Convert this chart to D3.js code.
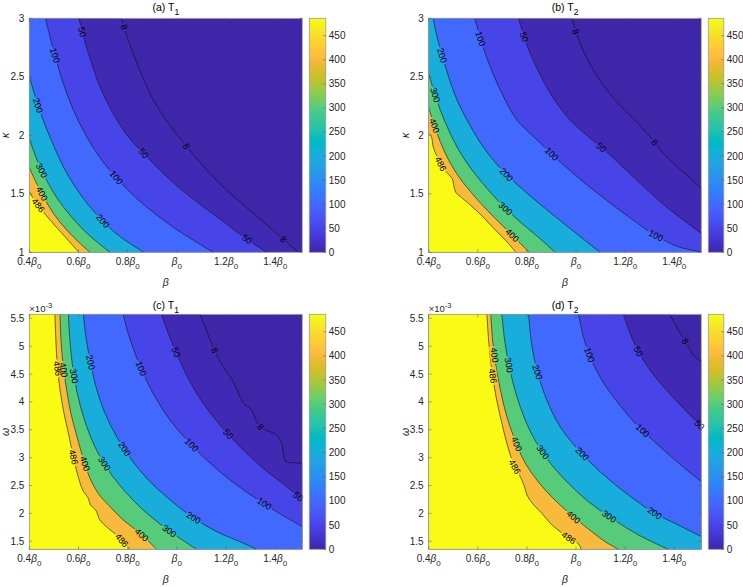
<!DOCTYPE html>
<html><head><meta charset="utf-8">
<script src="https://cdn.jsdelivr.net/npm/d3@7"></script>
<style>
body{margin:0;background:#fff;}
text{font-family:"Liberation Sans",Arial,Helvetica,sans-serif;}
</style>
</head><body>
<svg id="chart" width="743" height="587"></svg>
<script>
// ---------------- data ----------------
const betaRange = [0.4, 1.51];
const kappaRange = [1, 3];
const omegaRange = [1.356, 5.572];   // x 10^-3
const colorRange = [0, 486];
const levels = [8, 50, 100, 200, 300, 400, 486];
const xTicks = [0.4, 0.6, 0.8, 1.0, 1.2, 1.4];
const xTickPrefix = ["0.4", "0.6", "0.8", "", "1.2", "1.4"];
const kappaTicks = [1, 1.5, 2, 2.5, 3];
const omegaTicks = [1.5, 2, 2.5, 3, 3.5, 4, 4.5, 5, 5.5];
const cbTicks = [0, 50, 100, 150, 200, 250, 300, 350, 400, 450];

// panel (a): T1 over (beta, kappa)
const a486 = [[0.4,1.516],[0.430,1.419],[0.484,1.276],[0.545,1.134],[0.601,1.0]];
const a400 = [[0.4,1.724],[0.423,1.618],[0.457,1.476],[0.498,1.333],[0.552,1.191],[0.606,1.077],[0.647,1.0]];
const a300 = [[0.4,1.974],[0.416,1.875],[0.443,1.732],[0.477,1.590],[0.518,1.447],[0.565,1.319],[0.620,1.191],[0.674,1.091],[0.728,1.0]];
const a200 = [[0.4,2.507],[0.416,2.387],[0.437,2.245],[0.464,2.088],[0.498,1.917],[0.538,1.732],[0.586,1.561],[0.640,1.405],[0.701,1.262],[0.769,1.134],[0.866,1.0]];
const a100 = [[0.466,3.0],[0.484,2.843],[0.504,2.687],[0.538,2.444],[0.579,2.217],[0.633,1.989],[0.694,1.789],[0.762,1.618],[0.836,1.462],[0.918,1.319],[1.012,1.177],[1.148,1.0]];
const a50 = [[0.602,3.0],[0.620,2.843],[0.647,2.658],[0.687,2.416],[0.741,2.188],[0.802,1.989],[0.877,1.818],[0.958,1.647],[1.053,1.476],[1.162,1.305],[1.270,1.134],[1.365,1.0]];
const a8 = [[0.775,3.0],[0.802,2.815],[0.843,2.587],[0.897,2.330],[0.965,2.103],[1.040,1.903],[1.121,1.704],[1.216,1.504],[1.311,1.333],[1.405,1.162],[1.493,1.0]];
const labelsA = [[486,0.443,1.413],[400,0.454,1.504],[300,0.450,1.698],[200,0.430,2.251],[200,0.704,1.276],
  [100,0.511,2.687],[100,0.766,1.661],[50,0.620,2.886],[50,0.877,1.869],[50,1.283,1.105],[8,0.782,2.923],[8,1.040,1.909],[8,1.430,1.105]];

// panel (b): T2 over (beta, kappa)
const b486 = [[0.4,2.017],[0.411,1.989],[0.418,1.903],[0.434,1.818],[0.454,1.732],[0.479,1.670],[0.495,1.632],[0.503,1.561],[0.511,1.510],[0.529,1.476],[0.569,1.405],[0.617,1.311],[0.671,1.191],[0.718,1.091],[0.755,1.0]];
const b400 = [[0.4,2.239],[0.420,2.103],[0.447,1.946],[0.481,1.789],[0.522,1.647],[0.576,1.504],[0.637,1.362],[0.705,1.219],[0.766,1.091],[0.809,1.0]];
const b300 = [[0.4,2.524],[0.420,2.387],[0.447,2.217],[0.481,2.046],[0.522,1.875],[0.576,1.704],[0.637,1.547],[0.712,1.376],[0.779,1.248],[0.847,1.128],[0.915,1.0]];
const b200 = [[0.418,3.0],[0.434,2.843],[0.454,2.687],[0.481,2.501],[0.515,2.302],[0.556,2.131],[0.603,1.960],[0.657,1.803],[0.718,1.661],[0.793,1.519],[0.874,1.376],[0.983,1.191],[1.098,1.0]];
const b100 = [[0.588,3.0],[0.606,2.858],[0.630,2.701],[0.664,2.516],[0.705,2.330],[0.759,2.131],[0.820,2.003],[0.901,1.840],[0.996,1.661],[1.105,1.476],[1.213,1.305],[1.321,1.148],[1.416,1.048],[1.51,1.003]];
const b50 = [[0.766,3.0],[0.786,2.858],[0.813,2.701],[0.854,2.516],[0.908,2.316],[0.976,2.131],[1.050,1.989],[1.124,1.860],[1.232,1.647],[1.367,1.390],[1.51,1.162]];
const b8 = [[0.983,3.0],[1.003,2.858],[1.037,2.687],[1.091,2.487],[1.159,2.302],[1.239,2.131],[1.300,1.989],[1.367,1.818],[1.443,1.675],[1.51,1.547]];
const labelsB = [[486,0.454,1.761],[400,0.420,2.080],[400,0.732,1.128],[300,0.427,2.345],[300,0.705,1.356],
  [200,0.461,2.687],[200,0.712,1.655],[100,0.617,2.829],[100,0.901,1.840],[100,1.321,1.128],[50,0.793,2.843],[50,1.105,1.903],[8,0.999,2.886],[8,1.315,1.932]];

// panel (c): T1 over (beta, omega)
const c486 = [[0.504,5.572],[0.508,5.111],[0.514,4.633],[0.525,4.214],[0.541,3.796],[0.559,3.437],[0.576,3.078],[0.595,2.720],[0.617,2.421],[0.640,2.271],[0.649,2.152],[0.671,2.050],[0.687,1.883],[0.721,1.733],[0.762,1.584],[0.809,1.356]];
const c400 = [[0.525,5.572],[0.529,5.111],[0.538,4.633],[0.552,4.214],[0.569,3.796],[0.590,3.437],[0.613,3.078],[0.644,2.660],[0.680,2.361],[0.728,2.122],[0.782,1.883],[0.850,1.644],[0.918,1.356]];
const c300 = [[0.559,5.572],[0.565,5.111],[0.576,4.633],[0.595,4.155],[0.620,3.736],[0.649,3.377],[0.687,3.019],[0.735,2.690],[0.796,2.361],[0.863,2.062],[0.945,1.763],[1.012,1.554],[1.080,1.356]];
const c200 = [[0.620,5.572],[0.630,5.171],[0.647,4.753],[0.671,4.274],[0.708,3.796],[0.755,3.377],[0.816,2.959],[0.884,2.600],[0.965,2.271],[1.060,1.942],[1.162,1.673],[1.256,1.494],[1.324,1.356]];
const c100 = [[0.782,5.572],[0.802,5.231],[0.830,4.872],[0.863,4.513],[0.911,4.095],[0.972,3.676],[1.040,3.318],[1.121,2.959],[1.216,2.600],[1.311,2.301],[1.405,2.032],[1.51,1.763]];
const c50 = [[0.938,5.572],[0.965,5.231],[0.999,4.872],[1.046,4.424],[1.107,3.975],[1.175,3.587],[1.256,3.198],[1.351,2.809],[1.446,2.481],[1.51,2.241]];
const c8 = [[1.094,5.572],[1.114,5.350],[1.141,5.052],[1.168,4.783],[1.202,4.543],[1.229,4.364],[1.245,4.214],[1.259,4.065],[1.277,3.945],[1.297,3.886],[1.311,3.796],[1.324,3.647],[1.344,3.527],[1.378,3.467],[1.405,3.407],[1.426,3.258],[1.433,3.078],[1.443,2.929],[1.473,2.911],[1.51,2.899]];
const labelsC = [[486,0.522,4.603],[486,0.586,3.019],[486,0.775,1.512],[400,0.538,4.573],[400,0.630,2.899],[400,0.850,1.584],
  [300,0.586,4.466],[300,0.708,2.899],[300,0.958,1.614],[200,0.663,4.723],[200,0.802,3.198],[200,1.064,1.895],
  [100,0.857,4.603],[100,1.053,3.198],[100,1.344,2.092],[50,1.002,4.902],[50,1.209,3.425],[50,1.493,2.301],[8,1.155,4.932],[8,1.338,3.545]];

// panel (d): T2 over (beta, omega)
const d486 = [[0.637,5.572],[0.644,5.111],[0.655,4.633],[0.674,4.095],[0.698,3.617],[0.722,3.198],[0.750,2.839],[0.773,2.660],[0.790,2.481],[0.800,2.331],[0.817,2.212],[0.834,2.122],[0.861,2.002],[0.895,1.823],[0.935,1.673],[0.983,1.524],[1.010,1.452],[1.021,1.356]];
const d400 = [[0.653,5.572],[0.660,5.111],[0.674,4.633],[0.695,4.155],[0.718,3.736],[0.746,3.377],[0.779,3.019],[0.820,2.720],[0.874,2.421],[0.935,2.152],[0.996,1.913],[1.064,1.673],[1.118,1.494],[1.172,1.356]];
const d300 = [[0.698,5.572],[0.709,5.111],[0.728,4.633],[0.755,4.155],[0.793,3.676],[0.840,3.258],[0.901,2.869],[0.969,2.540],[1.050,2.212],[1.145,1.913],[1.254,1.614],[1.376,1.356]];
const d200 = [[0.807,5.572],[0.817,5.111],[0.840,4.573],[0.881,4.035],[0.935,3.557],[1.010,3.138],[1.105,2.720],[1.213,2.331],[1.321,2.002],[1.416,1.793],[1.51,1.584]];
const d100 = [[1.010,5.572],[1.030,5.171],[1.057,4.812],[1.105,4.394],[1.172,3.975],[1.254,3.557],[1.349,3.168],[1.443,2.809],[1.51,2.570]];
const d50 = [[1.193,5.572],[1.220,5.231],[1.254,4.902],[1.301,4.573],[1.362,4.244],[1.437,3.886],[1.51,3.557]];
const d8 = [[1.382,5.572],[1.416,5.291],[1.450,5.052],[1.477,4.842],[1.51,4.723]];
const labelsD = [[486,0.660,4.466],[486,0.752,2.839],[486,0.969,1.554],[400,0.671,4.842],[400,0.759,3.246],[400,0.979,1.883],
  [300,0.732,4.663],[300,0.867,3.108],[300,1.125,1.883],[200,0.847,4.543],[200,1.027,3.078],[200,1.315,1.972],
  [100,1.053,4.842],[100,1.267,3.467],[50,1.260,4.920],[50,1.502,3.587],[8,1.441,5.081]];

// ---------------- style: parula colormap ----------------
const parula = ["#3e26a8","#402ab4","#422ec0","#4332cb","#4537d5","#463cde","#4741e5","#4747eb","#484df0","#4852f4","#4758f8","#465efb","#4563fd","#4269fe","#3e6fff","#3875fe",
"#327cfc","#2f81fa","#2e87f7","#2d8cf3","#2b91ef","#2796eb","#259be8","#23a0e5","#20a5e3","#1ca9df","#18addb","#12b1d6","#08b5d0","#01b8ca","#02bac3","#0bbdbd",
"#19bfb6","#24c1ae","#2cc4a7","#31c69f","#37c897","#3fca8e","#4acb84","#57cc7a","#64cd6f","#72cd64","#81cc59","#8fcb4e","#9dc943","#abc739","#b9c431","#c5c22a",
"#d1bf27","#dcbd29","#e6bb2d","#f0ba36","#f8ba3d","#febe3c","#fec338","#fec934","#fccf30","#fad62d","#f7dc2a","#f5e327","#f5e924","#f6ef20","#f7f51b","#f9fb15"];
const cmap = d3.scaleLinear().domain(parula.map((_, i) => i / (parula.length - 1))).range(parula).interpolate(d3.interpolateRgb);
const valueColor = v => cmap(Math.max(0, Math.min(1, (v - colorRange[0]) / (colorRange[1] - colorRange[0]))));

const panels = [
  {id: "A", title: "(a) T", sub: "1", titleY: 10.5, x0: 29.3, x1: 302.3, y0: 18.3, y1: 252.3, yDomain: kappaRange, yTicks: kappaTicks, ylab: "κ", exp: false,
   lines: [[8,a8],[50,a50],[100,a100],[200,a200],[300,a300],[400,a400],[486,a486]], labels: labelsA, cb: [309.3, 325.8]},
  {id: "B", title: "(b) T", sub: "2", titleY: 10.5, x0: 428.7, x1: 701.3, y0: 18.3, y1: 252.3, yDomain: kappaRange, yTicks: kappaTicks, ylab: "κ", exp: false,
   lines: [[8,b8],[50,b50],[100,b100],[200,b200],[300,b300],[400,b400],[486,b486]], labels: labelsB, cb: [708.3, 723.8]},
  {id: "C", title: "(c) T", sub: "1", titleY: 309, x0: 29.3, x1: 302.3, y0: 314.3, y1: 549.3, yDomain: omegaRange, yTicks: omegaTicks, ylab: "ω", exp: true,
   lines: [[8,c8],[50,c50],[100,c100],[200,c200],[300,c300],[400,c400],[486,c486]], labels: labelsC, cb: [309.3, 325.8]},
  {id: "D", title: "(d) T", sub: "2", titleY: 309, x0: 428.7, x1: 701.3, y0: 314.3, y1: 549.3, yDomain: omegaRange, yTicks: omegaTicks, ylab: "ω", exp: true,
   lines: [[8,d8],[50,d50],[100,d100],[200,d200],[300,d300],[400,d400],[486,d486]], labels: labelsD, cb: [708.3, 723.8]}
];

const svg = d3.select("#chart");
const defs = svg.append("defs");

// colorbar gradient
const grad = defs.append("linearGradient").attr("id", "parulaGrad").attr("x1", 0).attr("y1", 1).attr("x2", 0).attr("y2", 0);
parula.forEach((c, i) => grad.append("stop").attr("offset", i / (parula.length - 1)).attr("stop-color", c));

const tickColor = "#262626";
const frameColor = "#9a9a9a";

panels.forEach(p => {
  const x = d3.scaleLinear().domain(betaRange).range([p.x0, p.x1]);
  const y = d3.scaleLinear().domain(p.yDomain).range([p.y1, p.y0]);
  const curve = d3.line().x(d => x(d[0])).y(d => y(d[1])).curve(d3.curveCatmullRom.alpha(0.5));
  const g = svg.append("g");

  defs.append("clipPath").attr("id", "clip" + p.id).append("rect")
    .attr("x", p.x0).attr("y", p.y0).attr("width", p.x1 - p.x0).attr("height", p.y1 - p.y0);

  const plot = g.append("g").attr("clip-path", `url(#clip${p.id})`);
  // region below the lowest level
  plot.append("rect").attr("x", p.x0).attr("y", p.y0).attr("width", p.x1 - p.x0).attr("height", p.y1 - p.y0)
    .attr("fill", valueColor(colorRange[0]));

  // filled bands: region of values >= level lies to lower-left of each contour
  p.lines.forEach(([lev, pts]) => {
    const s = pts[0], e = pts[pts.length - 1];
    let d = curve(pts);
    if (e[0] >= betaRange[1] - 0.005) d += `L${x(betaRange[1]) + 2},${y(e[1])}L${x(betaRange[1]) + 2},${p.y1 + 2}`;
    else d += `L${x(e[0])},${p.y1 + 2}`;
    d += `L${p.x0 - 2},${p.y1 + 2}`;
    if (s[1] >= p.yDomain[1] - 0.005) d += `L${p.x0 - 2},${p.y0 - 2}L${x(s[0])},${p.y0 - 2}`;
    else d += `L${p.x0 - 2},${y(s[1])}`;
    d += "Z";
    plot.append("path").attr("d", d).attr("fill", valueColor(lev)).attr("stroke", valueColor(lev)).attr("stroke-width", 0.3);
  });

  // mask to break contour lines under labels
  const mask = defs.append("mask").attr("id", "mask" + p.id).attr("maskUnits", "userSpaceOnUse")
    .attr("x", 0).attr("y", 0).attr("width", 743).attr("height", 587);
  mask.append("rect").attr("x", 0).attr("y", 0).attr("width", 743).attr("height", 587).attr("fill", "#fff");

  const lineG = plot.append("g").attr("mask", `url(#mask${p.id})`);
  p.lines.forEach(([lev, pts]) => {
    lineG.append("path").attr("d", curve(pts)).attr("fill", "none").attr("stroke", "#111").attr("stroke-width", 0.6);
  });

  // contour labels
  const labG = g.append("g");
  p.labels.forEach(([lev, bx, by]) => {
    const entry = p.lines.find(l => l[0] === lev);
    const pts = entry[1].map(q => [x(q[0]), y(q[1])]);
    const tx = x(bx), ty = y(by);
    let best = null;
    for (let i = 0; i < pts.length - 1; i++) {
      const [ax, ay] = pts[i], [cx, cy] = pts[i + 1];
      const vx = cx - ax, vy = cy - ay;
      const L2 = vx * vx + vy * vy;
      let t = L2 ? ((tx - ax) * vx + (ty - ay) * vy) / L2 : 0;
      t = Math.max(0, Math.min(1, t));
      const px = ax + t * vx, py = ay + t * vy;
      const dist = (px - tx) ** 2 + (py - ty) ** 2;
      if (!best || dist < best.dist) best = {dist, px, py, ang: Math.atan2(vy, vx) * 180 / Math.PI};
    }
    let ang = best.ang;
    if (ang > 90) ang -= 180;
    if (ang < -90) ang += 180;
    const tr = `translate(${best.px},${best.py}) rotate(${ang})`;
    const t = labG.append("text").attr("transform", tr).attr("text-anchor", "middle")
      .attr("dy", "0.35em").attr("font-size", 9).attr("fill", "#000").text(lev);
    const w = t.node().getComputedTextLength();
    mask.append("rect").attr("transform", tr).attr("x", -w / 2 - 1.5).attr("y", -4.5)
      .attr("width", w + 3).attr("height", 9).attr("fill", "#000");
  });

  // frame and ticks
  g.append("rect").attr("x", p.x0).attr("y", p.y0).attr("width", p.x1 - p.x0).attr("height", p.y1 - p.y0)
    .attr("fill", "none").attr("stroke", frameColor).attr("stroke-width", 0.8);
  xTicks.forEach((v, i) => {
    g.append("line").attr("x1", x(v)).attr("x2", x(v)).attr("y1", p.y1).attr("y2", p.y1 - 3).attr("stroke", "#555").attr("stroke-width", 0.5);
    g.append("line").attr("x1", x(v)).attr("x2", x(v)).attr("y1", p.y0).attr("y2", p.y0 + 3).attr("stroke", "#555").attr("stroke-width", 0.5);
    const t = g.append("text").attr("x", x(v)).attr("y", p.y1 + 13).attr("text-anchor", "middle")
      .attr("font-size", 10).attr("fill", tickColor);
    if (xTickPrefix[i]) t.append("tspan").text(xTickPrefix[i]);
    t.append("tspan").attr("font-style", "italic").text("β");
    t.append("tspan").attr("font-size", 8).attr("dy", 4).text("0");
  });
  p.yTicks.forEach(v => {
    g.append("line").attr("x1", p.x0).attr("x2", p.x0 + 3).attr("y1", y(v)).attr("y2", y(v)).attr("stroke", "#555").attr("stroke-width", 0.5);
    g.append("line").attr("x1", p.x1).attr("x2", p.x1 - 3).attr("y1", y(v)).attr("y2", y(v)).attr("stroke", "#555").attr("stroke-width", 0.5);
    g.append("text").attr("x", p.x0 - 5).attr("y", y(v)).attr("dy", "0.35em").attr("text-anchor", "end")
      .attr("font-size", 10).attr("fill", tickColor).text(v);
  });

  // axis labels & title
  g.append("text").attr("x", (p.x0 + p.x1) / 2).attr("y", p.y1 + 34).attr("text-anchor", "middle")
    .attr("font-size", 10.5).attr("font-style", "italic").attr("fill", tickColor).text("β");
  g.append("text").attr("transform", `translate(${p.x0 - 20},${(p.y0 + p.y1) / 2}) rotate(-90)`).attr("text-anchor", "middle")
    .attr("font-size", 10.5).attr("font-style", "italic").attr("fill", tickColor).text(p.ylab);
  const tt = g.append("text").attr("x", (p.x0 + p.x1) / 2).attr("y", p.titleY).attr("text-anchor", "middle")
    .attr("font-size", 10.5).attr("fill", "#000");
  tt.append("tspan").text(p.title);
  tt.append("tspan").attr("font-size", 8.5).attr("dy", 4).text(p.sub);
  if (p.exp) {
    const et = g.append("text").attr("x", p.x0).attr("y", p.y0 - 2.5).attr("font-size", 9.5).attr("fill", tickColor);
    et.append("tspan").text("×10");
    et.append("tspan").attr("font-size", 7.5).attr("dy", -4).text("-3");
  }

  // colorbar
  const cy = d3.scaleLinear().domain(colorRange).range([p.y1, p.y0]);
  g.append("rect").attr("x", p.cb[0]).attr("y", p.y0).attr("width", p.cb[1] - p.cb[0]).attr("height", p.y1 - p.y0)
    .attr("fill", "url(#parulaGrad)").attr("stroke", frameColor).attr("stroke-width", 0.8);
  cbTicks.forEach(v => {
    g.append("line").attr("x1", p.cb[1]).attr("x2", p.cb[1] - 2.5).attr("y1", cy(v)).attr("y2", cy(v)).attr("stroke", "#555").attr("stroke-width", 0.5);
    g.append("text").attr("x", p.cb[1] + 3).attr("y", cy(v)).attr("dy", "0.35em").attr("font-size", 10)
      .attr("fill", tickColor).text(v);
  });
});
</script>
</body></html>
